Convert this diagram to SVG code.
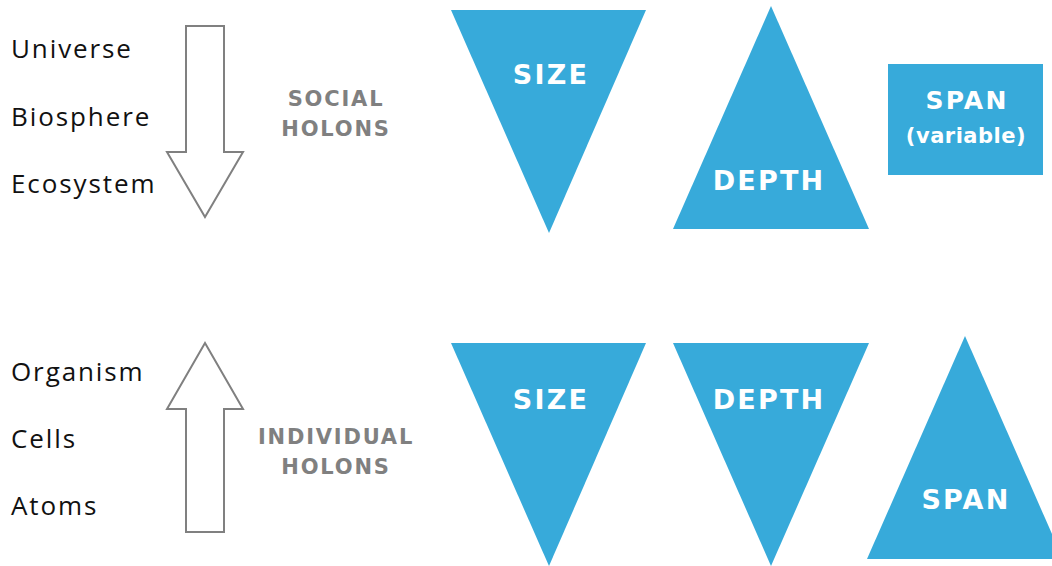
<svg xmlns="http://www.w3.org/2000/svg" width="1052" height="566" viewBox="0 0 1052 566">
  <style>
    .lvl { font-family: "Open Sans", "Lato", sans-serif; font-size: 26px; fill: #111; letter-spacing: 1.9px; }
    .hol { font-family: "DejaVu Sans", "Open Sans", sans-serif; font-size: 21px; font-weight: bold; fill: #808080; text-anchor: middle; letter-spacing: 1.8px; }
    .shape { fill: #37AADA; }
    .lbl { font-family: "DejaVu Sans", "Open Sans", sans-serif; font-size: 27px; font-weight: bold; fill: #fff; text-anchor: middle; letter-spacing: 2.2px; }
    .sub { font-family: "DejaVu Sans", "Open Sans", sans-serif; font-size: 21px; font-weight: bold; fill: #fff; text-anchor: middle; letter-spacing: 0.5px; }
    .arrow { fill: #fff; stroke: #808080; stroke-width: 2; }
  </style>
  <rect width="1052" height="566" fill="#fff"/>

  <!-- Level lists -->
  <g id="social-levels">
    <text class="lvl" x="11" y="58">Universe</text>
    <text class="lvl" x="11" y="126">Biosphere</text>
    <text class="lvl" x="11" y="193">Ecosystem</text>
  </g>
  <g id="individual-levels">
    <text class="lvl" x="11" y="381">Organism</text>
    <text class="lvl" x="11" y="448">Cells</text>
    <text class="lvl" x="11" y="515">Atoms</text>
  </g>

  <!-- Direction arrows -->
  <g id="connectors">
    <polygon class="arrow" points="186,26 224,26 224,152 243,152 205,217 167,152 186,152"/>
    <polygon class="arrow" points="205,343 243,409 224,409 224,532 186,532 186,409 167,409"/>
  </g>

  <!-- Holon labels -->
  <g id="social-holons">
    <text class="hol" x="336" y="106">SOCIAL</text>
    <text class="hol" x="336" y="136">HOLONS</text>
  </g>
  <g id="individual-holons">
    <text class="hol" x="336" y="444">INDIVIDUAL</text>
    <text class="hol" x="336" y="474">HOLONS</text>
  </g>

  <!-- Social row -->
  <g id="social-size">
    <polygon class="shape" points="451,10 646,10 549,233"/>
    <text class="lbl" x="551" y="84">SIZE</text>
  </g>
  <g id="social-depth">
    <polygon class="shape" points="771,6 869,229 673,229"/>
    <text class="lbl" x="769" y="190">DEPTH</text>
  </g>
  <g id="social-span">
    <rect class="shape" x="888" y="64" width="155" height="111"/>
    <text class="lbl" x="967" y="109" style="font-size:25px">SPAN</text>
    <text class="sub" x="966" y="143">(variable)</text>
  </g>

  <!-- Individual row -->
  <g id="individual-size">
    <polygon class="shape" points="451,343 646,343 549,566"/>
    <text class="lbl" x="551" y="409">SIZE</text>
  </g>
  <g id="individual-depth">
    <polygon class="shape" points="673,343 869,343 771,566"/>
    <text class="lbl" x="769" y="409">DEPTH</text>
  </g>
  <g id="individual-span">
    <polygon class="shape" points="965,336 1063,559 867,559"/>
    <text class="lbl" x="966" y="509">SPAN</text>
  </g>
</svg>
